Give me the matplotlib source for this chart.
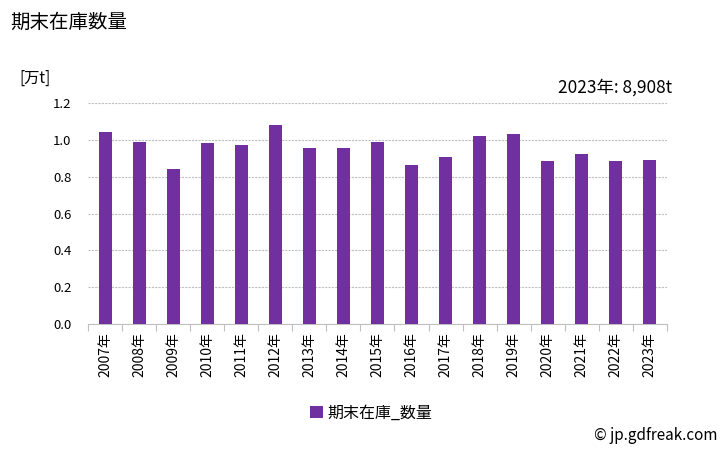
import matplotlib.pyplot as plt
import numpy as np

plt.rcParams['font.family'] = ['Noto Sans CJK JP', 'DejaVu Sans']

# データ
years = ['2007年', '2008年', '2009年', '2010年', '2011年', '2012年', '2013年', '2014年',
         '2015年', '2016年', '2017年', '2018年', '2019年', '2020年', '2021年', '2022年', '2023年']
stock = [1.043, 0.988, 0.842, 0.983, 0.972, 1.081, 0.956, 0.956,
         0.988, 0.863, 0.907, 1.021, 1.032, 0.885, 0.923, 0.885, 0.8908]
yticks = [0.0, 0.2, 0.4, 0.6, 0.8, 1.0, 1.2]

fig = plt.figure(figsize=(7.28, 4.5), dpi=100)
ax = fig.add_axes([0.121, 0.28, 0.795, 0.491])

x = np.arange(len(years))
ax.bar(x, stock, width=0.38, color='#7030A0', label='期末在庫_数量', zorder=3)

ax.set_xlim(-0.5, len(years) - 0.5)
ax.set_ylim(0, 1.2)
ax.set_yticks(yticks)
ax.set_yticklabels(['%.1f' % v for v in yticks], fontsize=9.5)
ax.yaxis.grid(True, color='#c0c0c0', linestyle=(0, (2, 1)), linewidth=0.8, zorder=0)

# x軸の目盛りは区切り位置に
ax.set_xticks(np.arange(-0.5, len(years), 1.0))
ax.set_xticklabels([])
ax.set_xticks(x, minor=True)
ax.set_xticklabels(years, minor=True, rotation=90, fontsize=10)
ax.tick_params(axis='x', which='major', length=5, color='#c0c0c0')
ax.tick_params(axis='x', which='minor', length=0, pad=6)
ax.tick_params(axis='y', length=0, pad=12)

for s in ['top', 'right', 'left']:
    ax.spines[s].set_visible(False)
ax.spines['bottom'].set_color('#c0c0c0')

fig.text(0.014, 0.95, '期末在庫数量', fontsize=14, va='center')
fig.text(0.027, 0.827, '[万t]', fontsize=11, va='center')
fig.text(0.923, 0.806, '2023年: 8,908t', fontsize=12.5, ha='right', va='center')
fig.text(0.985, 0.032, '© jp.gdfreak.com', fontsize=11, ha='right', va='center')

fig.legend(loc='center', bbox_to_anchor=(0.51, 0.082), frameon=False, fontsize=11.5,
           handlelength=0.8, handleheight=0.8, handletextpad=0.3)

fig.savefig('out.png', dpi=100)
